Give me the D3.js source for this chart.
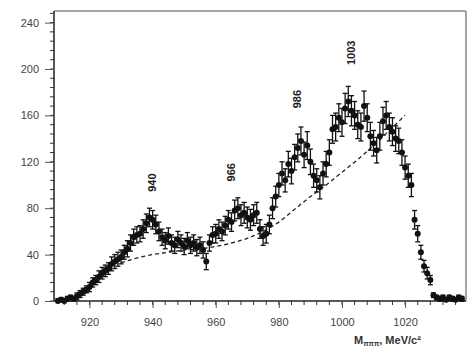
<!DOCTYPE html>
<html><head><meta charset="utf-8">
<script src="https://cdn.jsdelivr.net/npm/d3@7/dist/d3.min.js"></script>
<style>body{margin:0;background:#fff}svg{display:block}text{font-family:"Liberation Sans",Arial,sans-serif}</style>
</head><body><svg id="c" width="468" height="346"></svg>
<script>
const masses = [910,911,912,913,914,915,916,917,918,919,920,921,922,923,924,925,926,927,928,929,930,931,932,933,934,935,936,937,938,939,940,941,942,943,944,945,946,947,948,949,950,951,952,953,954,955,956,957,958,959,960,961,962,963,964,965,966,967,968,969,970,971,972,973,974,975,976,977,978,979,980,981,982,983,984,985,986,987,988,989,990,991,992,993,994,995,996,997,998,999,1000,1001,1002,1003,1004,1005,1006,1007,1008,1009,1010,1011,1012,1013,1014,1015,1016,1017,1018,1019,1020,1021,1022,1023,1024,1025,1026,1027,1028,1029,1030,1031,1032,1033,1034,1035,1036,1037,1038];
const counts = [0,1,0,2,3,2,4,6,8,10,12,16,18,21,24,26,28,32,34,36,38,42,45,50,55,57,58,62,67,72,70,66,60,55,52,56,50,48,53,50,47,52,48,50,46,48,44,34,50,57,58,62,60,65,70,68,78,80,74,76,72,70,74,76,62,56,58,66,80,90,100,110,104,118,112,124,132,138,126,134,120,108,104,98,110,118,128,148,150,158,154,166,172,164,160,152,150,168,158,142,136,130,142,155,160,150,146,140,138,128,115,108,100,70,58,42,30,24,18,5,3,2,3,1,3,2,1,3,2];
const errors = [2,2,2,2,2,2,3,3,3,3,4,4,4,5,5,5,5,6,6,6,6,6,7,7,7,7,7,8,8,8,8,8,8,7,7,7,7,7,7,7,7,7,7,7,7,7,7,7,7,7,8,8,8,8,8,8,9,9,9,9,9,9,9,9,8,8,8,8,9,9,10,10,10,11,11,11,12,12,11,12,11,10,10,10,10,11,11,12,12,12,12,13,13,13,12,12,12,13,12,12,11,11,12,12,12,12,12,11,11,11,10,10,10,8,7,6,5,5,4,2,2,2,2,2,2,2,2,2,2];
const bgMass = [930,935,940,945,950,955,960,965,970,975,980,985,990,995,1000,1005,1010,1015,1020];
const bgCounts = [33,37,40,42,44,45,47,50,54,60,68,79,90,100,111,122,134,147,160];
const xTicks = [920,940,960,980,1000,1020];
const yTicks = [0,40,80,120,160,200,240];
const peakLabels = ["940","966","986","1003"];
const peakMass = [939.8,964.8,985.7,1002.8];
const peakLevel = [102,111,174,214];

const svg = d3.select("#c");
const x = d3.scaleLinear().domain([908.75,1039.3]).range([54,466]);
const y = d3.scaleLinear().domain([0,250]).range([301,11]);

svg.append("line").attr("x1",54).attr("x2",466).attr("y1",y(250)).attr("y2",y(250)).attr("stroke","#888").attr("stroke-width",1.5);
svg.append("line").attr("x1",x(1039.3)).attr("x2",x(1039.3)).attr("y1",y(250)).attr("y2",301).attr("stroke","#888").attr("stroke-width",1.5);

const xMinor = d3.range(912,1039,4);
svg.append("g").selectAll("line").data(xMinor).join("line")
  .attr("x1",d=>x(d)).attr("x2",d=>x(d)).attr("y1",301).attr("y2",305).attr("stroke","#333").attr("stroke-width",1);
const yMinor = d3.range(0,250,8);
svg.append("g").selectAll("line").data(yMinor).join("line")
  .attr("x1",50).attr("x2",54).attr("y1",d=>y(d)).attr("y2",d=>y(d)).attr("stroke","#333").attr("stroke-width",1);

const xAxis = svg.append("g").attr("transform","translate(0,301)")
  .call(d3.axisBottom(x).tickValues(xTicks).tickSize(7).tickPadding(10).tickFormat(d3.format("d")));
const yAxis = svg.append("g").attr("transform","translate(54,0)")
  .call(d3.axisLeft(y).tickValues(yTicks).tickSize(9).tickPadding(6).tickFormat(d3.format("d")));
[xAxis,yAxis].forEach(g=>{
  g.select(".domain").attr("stroke","#222").attr("stroke-width",1.5);
  g.selectAll(".tick line").attr("stroke","#555");
  g.selectAll("text").attr("font-size",11).attr("fill","#444");
});
xAxis.select(".domain").attr("d","M54,0H466");
yAxis.select(".domain").attr("d","M0,11V301");

svg.append("path").datum(bgMass.map((m,i)=>[m,bgCounts[i]]))
  .attr("d",d3.line().x(d=>x(d[0])).y(d=>y(d[1])).curve(d3.curveMonotoneX))
  .attr("fill","none").attr("stroke","#222").attr("stroke-width",1.3).attr("stroke-dasharray","4,3");

const pts = masses.map((m,i)=>({m, v:counts[i], e:errors[i]}));
const eb = svg.append("g").attr("stroke","#111").attr("stroke-width",1.3);
eb.selectAll("line.v").data(pts).join("line").attr("class","v")
  .attr("x1",d=>x(d.m)).attr("x2",d=>x(d.m)).attr("y1",d=>y(Math.max(0,d.v-d.e))).attr("y2",d=>y(d.v+d.e));
eb.selectAll("line.t").data(pts).join("line").attr("class","t")
  .attr("x1",d=>x(d.m)-2.5).attr("x2",d=>x(d.m)+2.5).attr("y1",d=>y(d.v+d.e)).attr("y2",d=>y(d.v+d.e));
eb.selectAll("line.b").data(pts).join("line").attr("class","b")
  .attr("x1",d=>x(d.m)-2.5).attr("x2",d=>x(d.m)+2.5).attr("y1",d=>y(Math.max(0,d.v-d.e))).attr("y2",d=>y(Math.max(0,d.v-d.e)));
eb.selectAll("line.h").data(pts).join("line").attr("class","h")
  .attr("x1",d=>x(d.m-0.6)).attr("x2",d=>x(d.m+0.6)).attr("y1",d=>y(d.v)).attr("y2",d=>y(d.v));
svg.append("g").selectAll("circle").data(pts).join("circle")
  .attr("cx",d=>x(d.m)).attr("cy",d=>y(d.v)).attr("r",3).attr("fill","#111");

svg.append("g").selectAll("text").data(peakLabels).join("text")
  .attr("transform",(d,i)=>`translate(${x(peakMass[i])+4},${y(peakLevel[i])}) rotate(-90)`)
  .attr("text-anchor","middle").attr("font-size",11).attr("font-weight","bold").attr("fill","#222")
  .text(d=>d);

const t = svg.append("text").attr("x",354).attr("y",344).attr("font-size",11).attr("font-weight","bold").attr("fill","#333");
t.append("tspan").text("M");
t.append("tspan").attr("font-size",7).attr("dy",2).text("πππ");
t.append("tspan").attr("dy",-2).text(", MeV/c²");
</script></body></html>
